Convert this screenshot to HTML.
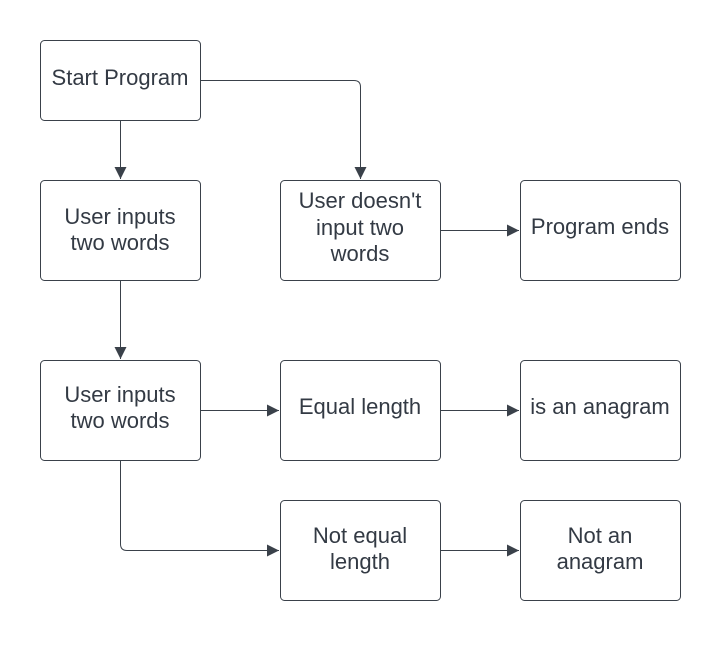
<!DOCTYPE html>
<html><head><style>body{margin:0;background:#fff}</style></head><body>
<svg width="720" height="640" xmlns="http://www.w3.org/2000/svg" font-family="Liberation Sans, sans-serif" font-size="22" fill="#333a44">
<defs><marker id="b" markerWidth="12" markerHeight="12" refX="12" refY="6" orient="auto" markerUnits="userSpaceOnUse"><path d="M0,0 L12,6 L0,12 z" fill="#3a414a"/></marker></defs>
<g fill="#fff" stroke="#3a414a" stroke-width="1">
<rect x="40.5" y="40.5" width="160" height="80" rx="4"/>
<rect x="40.5" y="180.5" width="160" height="100" rx="4"/>
<rect x="280.5" y="180.5" width="160" height="100" rx="4"/>
<rect x="520.5" y="180.5" width="160" height="100" rx="4"/>
<rect x="40.5" y="360.5" width="160" height="100" rx="4"/>
<rect x="280.5" y="360.5" width="160" height="100" rx="4"/>
<rect x="520.5" y="360.5" width="160" height="100" rx="4"/>
<rect x="280.5" y="500.5" width="160" height="100" rx="4"/>
<rect x="520.5" y="500.5" width="160" height="100" rx="4"/>
</g>
<g fill="none" stroke="#3a414a" stroke-width="1">
<path d="M120.5 121 V179" marker-end="url(#b)"/>
<path d="M201 80.5 H354 Q360.5 80.5 360.5 87 V179" marker-end="url(#b)"/>
<path d="M441 230.5 H519" marker-end="url(#b)"/>
<path d="M120.5 281 V359" marker-end="url(#b)"/>
<path d="M201 410.5 H279" marker-end="url(#b)"/>
<path d="M441 410.5 H519" marker-end="url(#b)"/>
<path d="M120.5 461 V544 Q120.5 550.5 127 550.5 H279" marker-end="url(#b)"/>
<path d="M441 550.5 H519" marker-end="url(#b)"/>
</g>
<g text-anchor="middle">
<text x="120" y="85">Start Program</text>
<text x="120" y="224">User inputs</text><text x="120" y="250">two words</text>
<text x="360" y="208">User doesn't</text><text x="360" y="235">input two</text><text x="360" y="261">words</text>
<text x="600" y="234">Program ends</text>
<text x="120" y="402">User inputs</text><text x="120" y="428">two words</text>
<text x="360" y="414">Equal length</text>
<text x="600" y="414">is an anagram</text>
<text x="360" y="543">Not equal</text><text x="360" y="569">length</text>
<text x="600" y="543">Not an</text><text x="600" y="569">anagram</text>
</g>
</svg>
</body></html>
